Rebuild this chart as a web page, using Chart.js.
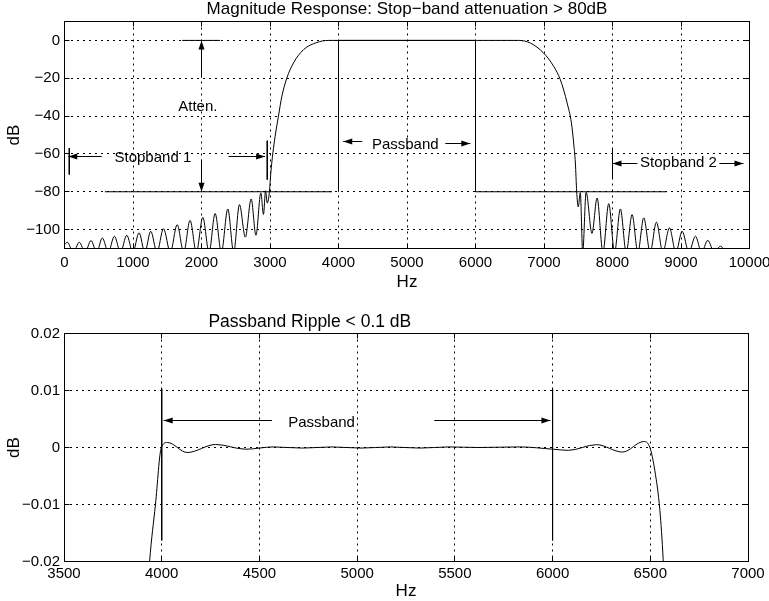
<!DOCTYPE html>
<html>
<head>
<meta charset="utf-8">
<script src="https://cdn.jsdelivr.net/npm/chart.js@4.4.0/dist/chart.umd.min.js"></script>
<style>
  body { margin: 0; background: #fff; }
  #wrap { position: relative; width: 769px; height: 601px; }
  canvas { position: absolute; left: 0; }
</style>
</head>
<body>
<div id="wrap">
  <canvas id="topChart" width="769" height="300" style="top:0;width:769px;height:300px"></canvas>
  <canvas id="botChart" width="769" height="301" style="top:300px;width:769px;height:301px"></canvas>
</div>
<script>
// ---- top plot: magnitude response (Hz, dB) ----
const respFreq = [0, 41, 128, 216, 300, 387, 470, 552, 640, 728, 818, 909, 998, 1088, 1173, 1259, 1350, 1445, 1545, 1645,
  1740, 1833, 1925, 2019, 2110, 2199, 2290, 2384, 2470, 2554, 2640, 2725, 2795, 2866, 2905, 2935, 2960, 2992, 3012, 3042,
  3075, 3123, 3173, 3246, 3343, 3489, 3684, 3850, 6630, 6801, 6995, 7141, 7239, 7337, 7400, 7433, 7458, 7477, 7500, 7530,
  7565, 7615, 7700, 7775, 7860, 7945, 8030, 8115, 8200, 8286, 8370, 8456, 8550, 8641, 8735, 8831, 8925, 9017, 9115, 9211,
  9300, 9391, 9485, 9576, 9670, 9760, 9850, 10000];
const respDb = [-108, -106.7, -112, -106.7, -112, -105.8, -112, -104.4, -112, -103.5, -112, -103.0, -112, -101.7, -112, -100.9, -112, -99.5, -112, -97.4,
  -112, -95.1, -112, -93.5, -112, -91.5, -112, -89.1, -112, -86.8, -104, -83.8, -103, -80.6, -92, -79.5, -86, -79.8, -70, -59.5,
  -50.7, -40.1, -29.6, -19.9, -11.9, -4.9, -1.1, 0, 0, -1.4, -6.7, -13.7, -20.8, -33, -43.6, -54.2, -64.8, -79.8, -88, -80.5,
  -112, -80.3, -102, -83.3, -112, -86.3, -112, -89.1, -112, -92.1, -112, -93.8, -112, -96.1, -112, -99.1, -112, -100.9, -112, -103.5,
  -112, -105.7, -112, -108.8, -112, -111, -115, -115];

// spec lines
const stop1Freq = [590, 3905];
const stop1Db = [-80, -80];
const passFreq = [4000, 4000, 6000, 6000, 8790];
const passDb = [-80, 0, 0, -80, -80];

// short vertical markers [Hz, dB from, dB to]
const topMarks = [[70, -56.9, -70.9], [2960, -53, -73.6], [8000, -57, -73]];
// arrows [x from, y from, x tip, y tip]
const topArrows = [
  [2000, -19.7, 2000, 0], [2000, -63, 2000, -80],
  [543, -60.9, 55, -60.9], [2393, -60.9, 2929, -60.9],
  [4346, -53.4, 4069, -53.4], [5559, -54.2, 5924, -54.2],
  [8363, -64.6, 8000, -64.6], [9561, -64.6, 9912, -64.6]
];
const attenTick = [1717, 2272, 0];
const topNotes = [['Atten.', 1946, -35.2], ['Stopband 1', 1290, -62.1], ['Passband', 4975, -55.1], ['Stopband 2', 8963, -64.6]];
const topXTicks = [0, 1000, 2000, 3000, 4000, 5000, 6000, 7000, 8000, 9000, 10000];
const topYTicks = [-100, -80, -60, -40, -20, 0];

// ---- bottom plot: passband ripple ----
const rippleFreq = [3925, 3938, 3968, 3998, 4029, 4131, 4276, 4430, 4570, 4720, 4870, 5020, 5170, 5320, 5470, 5620, 5833, 6003,
  6080, 6225, 6358, 6467, 6498, 6523, 6549, 6566, 6575];
const rippleDb = [-0.027, -0.02, -0.01, 0, 0.00088, -0.00088, 0.00053, -0.0003, 0.0001, -0.0001, 0.0001, -0.0001, 0.0001, -0.0001, 0.0001, 0, 0.0001, -0.0003,
  -0.0005, 0.0005, -0.0008, 0.00105, 0, -0.004, -0.011, -0.0197, -0.027];
const botMarks = [[4000, 0.0103, -0.0163], [6000, 0.0103, -0.0163]];
const botArrows = [[4564, 0.0048, 4010, 0.0048], [5395, 0.0048, 5989, 0.0048]];
const botNotes = [['Passband', 4818, 0.0043]];
const botXTicks = [3500, 4000, 4500, 5000, 5500, 6000, 6500, 7000];
const botYTicks = [-0.02, -0.01, 0, 0.01, 0.02];

const FONT = '"Liberation Sans", Arial, Helvetica, sans-serif';
const minus = v => String(v).replace('-', '\u2212');

function pts(xs, ys) { return xs.map((x, i) => ({ x: x, y: ys[i] })); }
function marks(list) {
  const out = [];
  list.forEach(([f, a, b]) => out.push({ x: f, y: a }, { x: f, y: b }, { x: f, y: null }));
  return out;
}
function line(data, extra) {
  return Object.assign({ data: data, borderColor: '#000', borderWidth: 1, pointRadius: 0, fill: false }, extra || {});
}

// box, inside ticks, arrows, notes and title (matlab look)
function decor(cfg) {
  return {
    id: 'decor',
    afterDatasetsDraw(chart) {
      const { ctx, chartArea: a } = chart;
      const sx = chart.scales.x, sy = chart.scales.y;
      const L = Math.floor(a.left) + 0.5, R = Math.floor(a.right) + 0.5;
      const T = Math.floor(a.top) + 0.5, B = Math.floor(a.bottom) + 0.5;
      ctx.save();
      ctx.setLineDash([]);
      ctx.strokeStyle = '#000';
      ctx.fillStyle = '#000';
      ctx.lineWidth = 1;
      ctx.strokeRect(L, T, R - L, B - T);

      ctx.beginPath();
      cfg.xTicks.forEach(v => {
        const px = Math.floor(sx.getPixelForValue(v)) + 0.5;
        ctx.moveTo(px, B); ctx.lineTo(px, B - 5);
        ctx.moveTo(px, T); ctx.lineTo(px, T + 5);
      });
      cfg.yTicks.forEach(v => {
        const py = Math.floor(sy.getPixelForValue(v)) + 0.5;
        ctx.moveTo(L, py); ctx.lineTo(L + 5, py);
        ctx.moveTo(R, py); ctx.lineTo(R - 5, py);
      });
      ctx.stroke();

      cfg.arrows.forEach(([x1, y1, x2, y2]) => {
        let ax = sx.getPixelForValue(x1), ay = sy.getPixelForValue(y1);
        let bx = sx.getPixelForValue(x2), by = sy.getPixelForValue(y2);
        if (y1 === y2) { ay = by = Math.round(ay) + 0.5; }
        if (x1 === x2) { ax = bx = Math.floor(ax) + 0.5; }
        const ang = Math.atan2(by - ay, bx - ax);
        const c = Math.cos(ang), s = Math.sin(ang);
        ctx.beginPath(); ctx.moveTo(ax, ay); ctx.lineTo(bx, by); ctx.stroke();
        ctx.beginPath();
        ctx.moveTo(bx, by);
        ctx.lineTo(bx - 9 * c + 3 * s, by - 9 * s - 3 * c);
        ctx.lineTo(bx - 9 * c - 3 * s, by - 9 * s + 3 * c);
        ctx.closePath(); ctx.fill();
      });

      ctx.font = '15px ' + FONT;
      ctx.textAlign = 'center';
      ctx.textBaseline = 'middle';
      cfg.notes.forEach(([t, fx, fy]) => ctx.fillText(t, sx.getPixelForValue(fx), sy.getPixelForValue(fy)));

      ctx.font = cfg.titleSize + 'px ' + FONT;
      const tx = cfg.titleX == null ? (a.left + a.right) / 2 : sx.getPixelForValue(cfg.titleX);
      ctx.fillText(cfg.title, tx, cfg.titleY);
      ctx.restore();
    }
  };
}

function scaleOpts(min, max, ticks, size, fmt, title, pad, titlePad) {
  return {
    type: 'linear', min: min, max: max,
    afterBuildTicks: s => { s.ticks = ticks.map(v => ({ value: v })); },
    afterFit: s => {
      if (s.isHorizontal()) { s.height = size; s.paddingLeft = 0; s.paddingRight = 0; }
      else { s.width = size; s.paddingTop = 0; s.paddingBottom = 0; }
    },
    ticks: { color: '#000', font: { family: FONT, size: 15 }, padding: pad, maxRotation: 0, minRotation: 0, autoSkip: false, callback: fmt },
    grid: { color: '#000', lineWidth: 1, drawTicks: false },
    border: { display: false, dash: [2, 4] },
    title: { display: true, text: title, color: '#000', font: { family: FONT, size: 17 }, padding: titlePad }
  };
}

const common = {
  responsive: false,
  animation: false,
  devicePixelRatio: 1,
  plugins: { legend: { display: false }, tooltip: { enabled: false } },
  elements: { line: { borderCapStyle: 'butt' } }
};

// attenuation tick line at 0 dB
const attenLine = pts([attenTick[0], attenTick[1]], [attenTick[2], attenTick[2]]);

new Chart(document.getElementById('topChart'), {
  type: 'line',
  data: {
    datasets: [
      line(pts(respFreq, respDb), { cubicInterpolationMode: 'monotone' }),
      line(pts(stop1Freq, stop1Db)),
      line(pts(passFreq, passDb)),
      line(marks(topMarks)),
      line(attenLine)
    ]
  },
  options: Object.assign({}, common, {
    layout: { padding: { left: 0, right: 19.5, top: 21.5, bottom: 0 } },
    scales: {
      x: scaleOpts(0, 10000, topXTicks, 51.5, v => String(v), 'Hz', 5, { top: 0, bottom: 7 }),
      y: scaleOpts(-110, 10, topYTicks, 64.5, minus, 'dB', 4.5, { top: 4, bottom: 0 })
    }
  }),
  plugins: [decor({ xTicks: topXTicks, yTicks: topYTicks, arrows: topArrows, notes: topNotes,
    title: 'Magnitude Response: Stop\u2212band attenuation > 80dB', titleY: 9, titleSize: 17 })]
});

new Chart(document.getElementById('botChart'), {
  type: 'line',
  data: {
    datasets: [
      line(pts(rippleFreq, rippleDb), { cubicInterpolationMode: 'monotone' }),
      line(marks(botMarks))
    ]
  },
  options: Object.assign({}, common, {
    layout: { padding: { left: 0, right: 21, top: 33.5, bottom: 0 } },
    scales: {
      x: scaleOpts(3500, 7000, botXTicks, 39.5, v => String(v), 'Hz', 3, { top: 0, bottom: -1 }),
      y: scaleOpts(-0.02, 0.02, botYTicks, 64, minus, 'dB', 4, { top: 4, bottom: 0 })
    }
  }),
  plugins: [decor({ xTicks: botXTicks, yTicks: botYTicks, arrows: botArrows, notes: botNotes,
    title: 'Passband Ripple < 0.1 dB', titleX: 4758, titleY: 22, titleSize: 17.5 })]
});
</script>
</body>
</html>
